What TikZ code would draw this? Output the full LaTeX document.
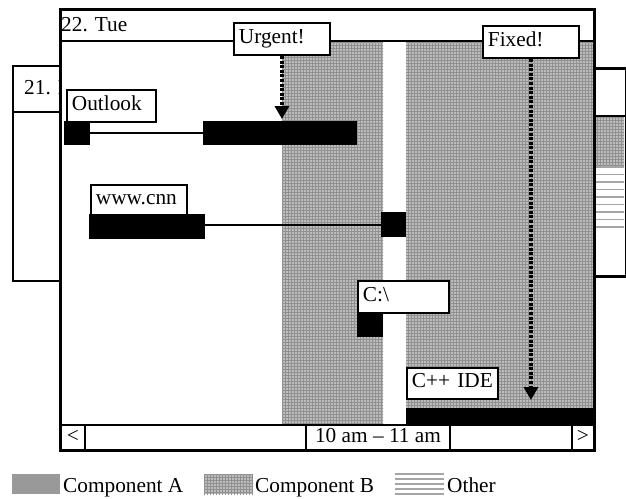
\documentclass[tikz,border=0pt]{standalone}
\usepackage{fontspec}
\setmainfont{Liberation Serif}
\usetikzlibrary{patterns,arrows.meta}
\definecolor{compA}{RGB}{153,153,153}
\definecolor{compBbase}{RGB}{188,188,188}
\definecolor{compBline}{RGB}{145,145,145}
\definecolor{otherline}{RGB}{165,165,165}
\begin{document}
\begin{tikzpicture}[x=1pt,y=-1pt,
  frame/.style={draw, line width=1.9pt},
  win/.style={draw, line width=1.9pt, fill=white, anchor=north west, inner sep=0pt},
  lbl/.style={draw, line width=1.9pt, fill=white, anchor=north west, inner xsep=5pt, inner ysep=0pt,
    align=left, text height=14.5pt, text depth=6pt, font=\fontsize{21.3}{25}\selectfont},
  sbox/.style={draw, line width=1.9pt, fill=white, anchor=north west, inner sep=0pt,
    text height=14.5pt, text depth=5pt, font=\fontsize{21.3}{25}\selectfont},
  txt/.style={anchor=base west, inner sep=0pt, font=\fontsize{21.3}{25}\selectfont},
  bar/.style={fill=black, inner sep=0pt, anchor=north west},
  conn/.style={line width=1.8pt},
  compB/.style={fill=compBbase, postaction={pattern=grid, pattern color=compBline}},
  dotarrow/.style={line width=3.4pt, dash pattern=on 3pt off 1.6pt, shorten >=2pt,
    -{Triangle[width=14pt,length=13pt]}},
]
\useasboundingbox (0,0) rectangle (626,498);

% left window (behind)
\node[win, minimum width=48pt, minimum height=215pt] (leftwin) at (12,65) {};
\draw[frame] (leftwin.west |- 0,112) -- (leftwin.east |- 0,112);
\node[txt] (t21) at (24,94) {21. Mon};

% right window (behind)
\node[win, minimum width=30.5pt, minimum height=207pt] (rightwin) at (594,68) {};
\path[compB] (594,116) rectangle (624,165);
\foreach \yy in {167,174.5,...,233} \draw[otherline, line width=1.6pt] (595,\yy) -- (623.5,\yy);
\draw[frame] (rightwin.west |- 0,116) -- (rightwin.east |- 0,116);
\draw[frame] (rightwin.north west) rectangle (rightwin.south east);

% main window
\node[win, minimum width=533pt, minimum height=440pt] (main) at (60,9) {};
\path[compB] (282,41) rectangle (383,424);
\path[compB] (406,41) rectangle (593,424);
\draw[frame] (main.west |- 0,41) -- (main.east |- 0,41);
\draw[frame] (main.north west) rectangle (main.south east);
\node[txt] (t22) at (61,31) {22. Tue};

% bars
\node[bar, minimum width=26pt, minimum height=24pt] (o1) at (64,121) {};
\node[bar, minimum width=154pt, minimum height=24pt] (o2) at (203,121) {};
\node[bar, minimum width=116pt, minimum height=25pt] (c1) at (89,214) {};
\node[bar, minimum width=25pt, minimum height=25pt] (c2) at (381,212) {};
\node[bar, minimum width=26pt, minimum height=25pt] (d1) at (357,312) {};
\node[bar, minimum width=187pt, minimum height=16pt] (i1) at (406,408) {};

% connectors
\draw[conn] (o1.east) -- (o2.west);
\draw[conn] (c1.east |- c2.west) -- (c2.west);

% labels
\node[lbl, text width=79pt, minimum height=32pt] (outlook) at (66,89) {Outlook};
\node[lbl, text width=86pt, minimum height=30pt] (cnn) at (90,184) {www.cnn};
\node[lbl, text width=81pt, minimum height=32pt] (cdrive) at (357,280) {C:\textbackslash};
\node[lbl, text width=81pt, minimum height=31pt] (ide) at (406,367) {C++ IDE};
\node[lbl, text width=86pt, minimum height=32pt] (urgent) at (233,22) {Urgent!};
\node[lbl, text width=86pt, minimum height=32pt] (fixed) at (482,25) {Fixed!};

% arrows
\draw[dotarrow] (urgent.south) -- (urgent.south |- o2.north);
\draw[dotarrow, shorten >=8pt] (fixed.south) -- (fixed.south |- i1.north);

% scroll bar
\node[win, minimum width=533pt, minimum height=25pt] (scroll) at (60,424) {};
\node[sbox, minimum width=24pt, minimum height=25pt] (left) at (60,424) {<};
\node[sbox, minimum width=144pt, minimum height=25pt] (range) at (305,424) {10 am -- 11 am};
\node[sbox, minimum width=22pt, minimum height=25pt] (right) at (571,424) {>};

% legend
\node[fill=compA, inner sep=0pt, anchor=north west, minimum width=48pt, minimum height=20pt] (swA) at (12,474) {};
\node[txt] (lA) at (63,492) {Component A};
\node[compB, inner sep=0pt, anchor=north west, minimum width=49pt, minimum height=20pt] (swB) at (204,474) {};
\node[txt] (lB) at (255,492) {Component B};
\foreach \yy in {474,479,...,494} \draw[otherline, line width=1.5pt] (395,\yy) -- (444,\yy);
\node[txt] (lO) at (447,492) {Other};
\end{tikzpicture}
\end{document}
